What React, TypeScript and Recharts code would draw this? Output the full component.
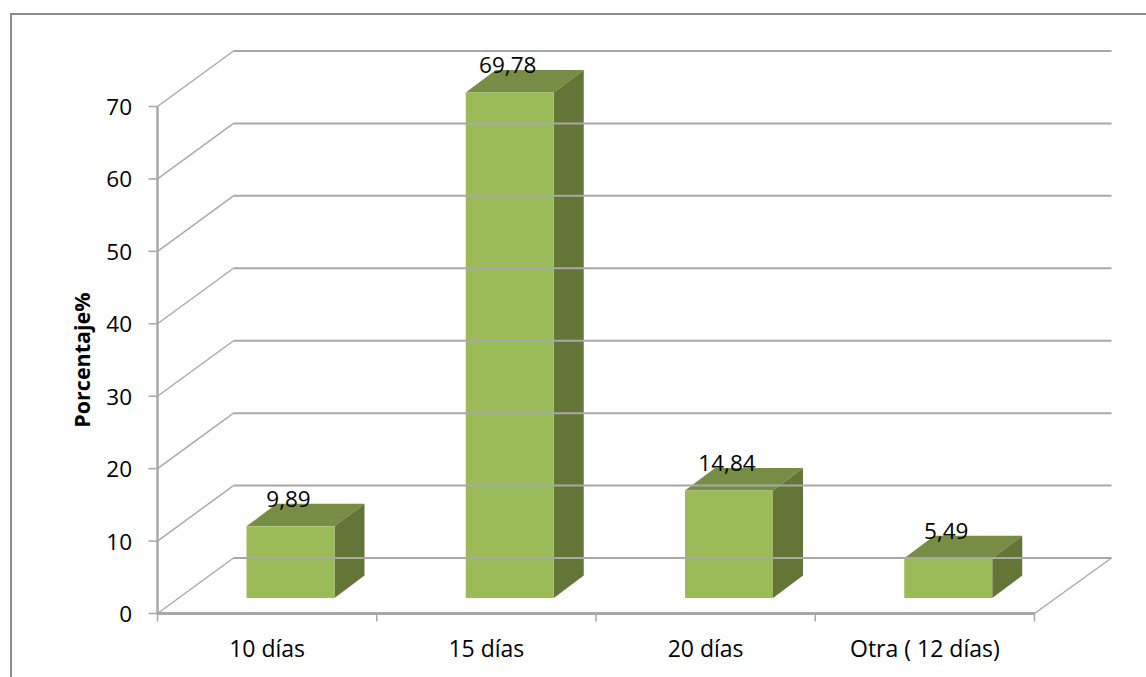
import { Bar, BarChart, Label, LabelList, XAxis, YAxis } from "recharts";

const categories = ["10 días", "15 días", "20 días", "Otra ( 12 días)"];
const porcentajes = [9.89, 69.78, 14.84, 5.49];
const yTicks = [0, 10, 20, 30, 40, 50, 60, 70];

const WIDTH = 1146;
const HEIGHT = 677;
const PLOT = { left: 157.5, top: 106.5, right: 1034.5, bottom: 613.5 };
const BAND = (PLOT.right - PLOT.left) / categories.length;

// fake 3D: how far the back wall sits from the front plane
const WALL = { dx: 76, dy: -55.5 };
const BAR_SHIFT = { dx: 23, dy: -15.5 };
const BAR_DEPTH = { dx: 30, dy: -22.5 };

const GRID = "#a8a8a8";
const FONT = "'Open Sans', sans-serif";

const rows = categories.map((name, i) => ({ name, value: porcentajes[i] }));

function YTick({ x, y, payload }: any) {
  const ax = PLOT.left;
  return (
    <g>
      <line x1={ax} y1={y} x2={ax + WALL.dx} y2={y + WALL.dy} stroke={GRID} strokeWidth={1.4} />
      <line x1={ax + WALL.dx} y1={y + WALL.dy} x2={PLOT.right + WALL.dx + 1} y2={y + WALL.dy} stroke={GRID} strokeWidth={2} />
      <line x1={ax - 9} y1={y} x2={ax} y2={y} stroke={GRID} strokeWidth={1.5} />
      {payload.value === 0 && (
        <line x1={PLOT.right} y1={y} x2={PLOT.right + WALL.dx + 1} y2={y + WALL.dy} stroke={GRID} strokeWidth={1.4} />
      )}
      <text x={x - 17.5} y={y} textAnchor="end" dominantBaseline="central" fontFamily={FONT} fontSize={22.5} fill="#000">
        {payload.value}
      </text>
    </g>
  );
}

function XTick({ x, y, payload, index }: any) {
  const left = x - BAND / 2;
  return (
    <g>
      <line x1={left} y1={y - 9} x2={left} y2={y} stroke={GRID} strokeWidth={1.5} />
      {index === categories.length - 1 && (
        <line x1={left + BAND} y1={y - 9} x2={left + BAND} y2={y} stroke={GRID} strokeWidth={1.5} />
      )}
      <text x={x} y={y + 26} textAnchor="middle" dominantBaseline="central" fontFamily={FONT} fontSize={23} fill="#000">
        {payload.value}
      </text>
    </g>
  );
}

function Box3D({ x, y, width, height }: any) {
  const l = x + BAR_SHIFT.dx;
  const r = l + width;
  const t = y + BAR_SHIFT.dy;
  const b = t + height;
  const { dx, dy } = BAR_DEPTH;
  return (
    <g>
      <polygon points={`${l},${t} ${r},${t} ${r + dx},${t + dy} ${l + dx},${t + dy}`} fill="#778c45" />
      <polygon points={`${r},${t} ${r + dx},${t + dy} ${r + dx},${b + dy} ${r},${b}`} fill="#647637" />
      <rect x={l} y={t} width={width} height={height} fill="#9bbb59" />
    </g>
  );
}

function BarValue({ x, y, width, value }: any) {
  return (
    <text
      x={x + BAR_SHIFT.dx + width / 2 - 2}
      y={y + BAR_SHIFT.dy - 28}
      textAnchor="middle"
      dominantBaseline="central"
      fontFamily={FONT}
      fontSize={22.5}
      fill="#000"
    >
      {String(value).replace(".", ",")}
    </text>
  );
}

export default function App() {
  return (
    <div style={{ position: "absolute", left: 0, top: 0, width: WIDTH, height: HEIGHT, background: "#fff", overflow: "hidden" }}>
      <div
        style={{
          position: "absolute",
          left: 10,
          top: 13,
          width: WIDTH,
          height: HEIGHT,
          borderTop: "2px solid #8c8c8c",
          borderLeft: "2px solid #8c8c8c",
        }}
      />
      <BarChart
        width={WIDTH}
        height={HEIGHT}
        data={rows}
        barSize={88}
        margin={{ left: 0, top: PLOT.top, right: WIDTH - PLOT.right, bottom: 0 }}
        style={{ position: "absolute", left: 0, top: 0 }}
      >
        <YAxis
          type="number"
          width={PLOT.left}
          domain={[0, 70]}
          ticks={yTicks}
          interval={0}
          axisLine={{ stroke: GRID, strokeWidth: 2.5 }}
          tickLine={false}
          tick={<YTick />}
        >
          <Label
            value="Porcentaje%"
            angle={-90}
            position="insideLeft"
            offset={73}
            textAnchor="middle"
            dominantBaseline="central"
            fontFamily={FONT}
            fontWeight={700}
            fontSize={21.5}
            fill="#000"
          />
        </YAxis>
        <XAxis
          dataKey="name"
          height={HEIGHT - PLOT.bottom}
          interval={0}
          axisLine={{ stroke: GRID, strokeWidth: 3 }}
          tickLine={false}
          tick={<XTick />}
        />
        <Bar dataKey="value" shape={<Box3D />} isAnimationActive={false}>
          <LabelList dataKey="value" content={<BarValue />} />
        </Bar>
      </BarChart>
    </div>
  );
}
